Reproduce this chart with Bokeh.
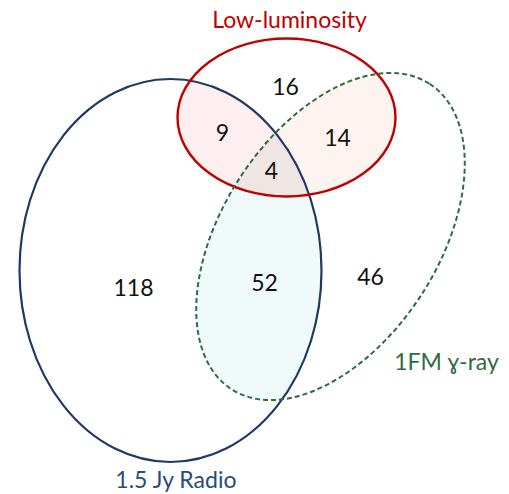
import numpy as np
from bokeh.plotting import figure
from bokeh.models import Range1d
from bokeh.embed import file_html
from bokeh.resources import INLINE
from bokeh.core.properties import value

# ---- data ----
set_names = ["1.5 Jy Radio", "Low-luminosity", "1FM ɣ-ray"]
# ellipse geometry (centre x, centre y, full width, full height, angle deg)
ell_x = [170, 286, 330]
ell_y = [224, 377, 258]
ell_w = [302, 218, 364]
ell_h = [383, 158, 216]
ell_a = [0, 0, 57]
ell_color = ["#1f3864", "#c00000", "#2e6b44"]
ell_width = [2.2, 2.4, 2.0]
ell_dash = ["solid", "solid", "5 3"]

region_labels = ["118", "16", "46", "9", "14", "52", "4"]
region_x = [133, 285, 370, 222, 337, 264, 271]
region_y = [207, 408, 218, 362, 357, 212, 324]

name_x = [176, 289, 446]
name_y = [16, 476, 134]
name_color = ["#2a4a80", "#c00000", "#2e6b44"]

fill_pairs = {"RB": "#fdeef0", "RG": "#fdf3ef", "BG": "#f0fafa", "RBG": "#efe6e4"}


def ellipse_poly(i, n=360):
    t = np.linspace(0, 2 * np.pi, n, endpoint=False)
    a, b = ell_w[i] / 2, ell_h[i] / 2
    th = np.deg2rad(ell_a[i])
    x = a * np.cos(t)
    y = b * np.sin(t)
    xr = ell_x[i] + x * np.cos(th) - y * np.sin(th)
    yr = ell_y[i] + x * np.sin(th) + y * np.cos(th)
    return list(zip(xr, yr))


def clip(subject, clipper):
    def inside(p, a, b):
        return (b[0] - a[0]) * (p[1] - a[1]) - (b[1] - a[1]) * (p[0] - a[0]) >= 0

    def inter(p1, p2, a, b):
        x1, y1 = p1; x2, y2 = p2; x3, y3 = a; x4, y4 = b
        den = (x1 - x2) * (y3 - y4) - (y1 - y2) * (x3 - x4)
        t = ((x1 - x3) * (y3 - y4) - (y1 - y3) * (x3 - x4)) / den
        return (x1 + t * (x2 - x1), y1 + t * (y2 - y1))

    out = subject
    for k in range(len(clipper)):
        a, b = clipper[k - 1], clipper[k]
        inp = out
        out = []
        if not inp:
            break
        s = inp[-1]
        for e in inp:
            if inside(e, a, b):
                if not inside(s, a, b):
                    out.append(inter(s, e, a, b))
                out.append(e)
            elif inside(s, a, b):
                out.append(inter(s, e, a, b))
            s = e
    return out


B, R, G = ellipse_poly(0), ellipse_poly(1), ellipse_poly(2)
polys = {
    "BG": clip(B, G),
    "RB": clip(R, B),
    "RG": clip(R, G),
}
polys["RBG"] = clip(polys["RB"], G)

p = figure(width=509, height=494, x_range=Range1d(0, 509), y_range=Range1d(0, 494),
           output_backend="svg", toolbar_location=None, min_border=0)
p.axis.visible = False
p.grid.visible = False
p.outline_line_color = None
p.background_fill_color = "white"

for key in ["BG", "RB", "RG", "RBG"]:
    pts = polys[key]
    p.patch([q[0] for q in pts], [q[1] for q in pts], fill_color=fill_pairs[key],
            line_color=None)

for i in range(3):
    p.ellipse(x=ell_x[i], y=ell_y[i], width=ell_w[i], height=ell_h[i],
              angle=np.deg2rad(ell_a[i]), fill_color=None, line_color=ell_color[i],
              line_width=ell_width[i], line_dash=ell_dash[i])

p.text(x=region_x, y=region_y, text=region_labels, text_align="center",
       text_baseline="middle", text_font=value("Lato"), text_font_size="23px",
       text_color="#111111")

p.text(x=name_x, y=name_y, text=set_names, text_color=name_color,
       text_align="center", text_baseline="middle", text_font=value("Lato"),
       text_font_size="23px")

open("out.html", "w").write(file_html(p, INLINE))
